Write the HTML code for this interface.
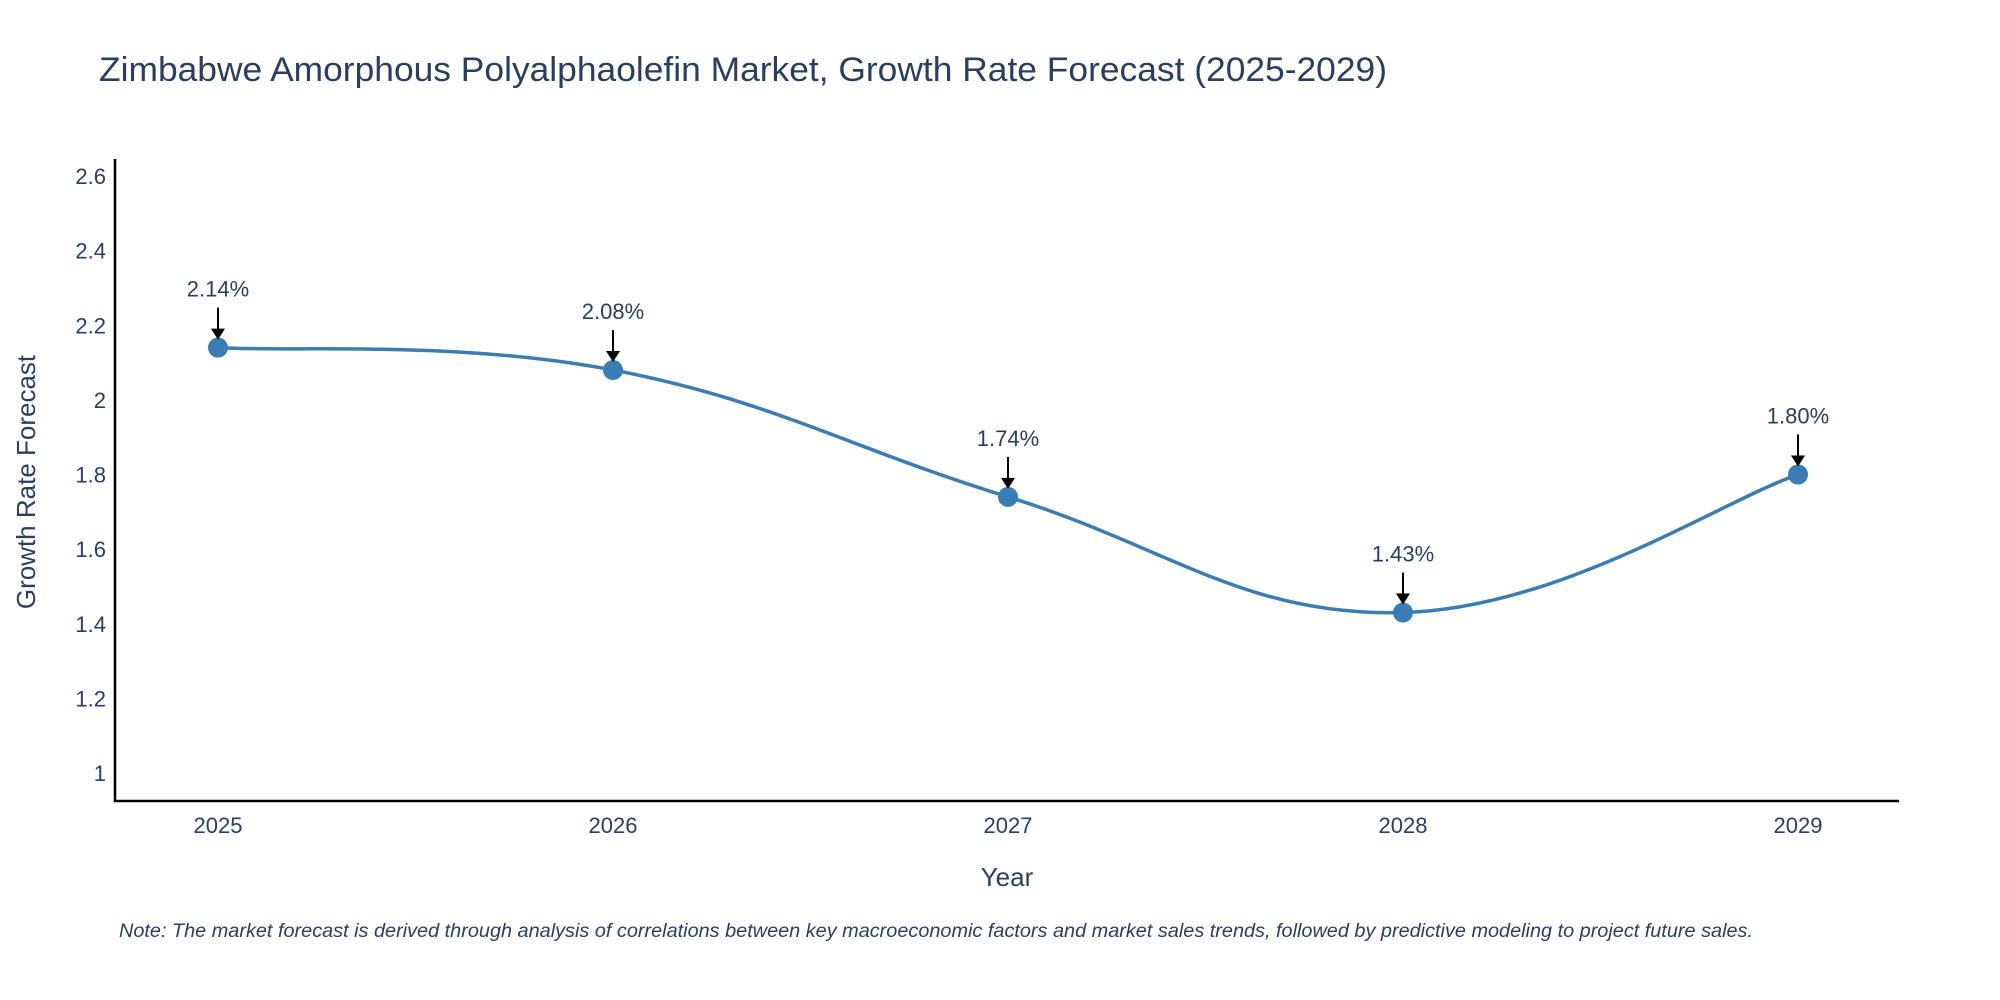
<!DOCTYPE html>
<html><head><meta charset="utf-8"><style>
html,body{margin:0;padding:0;background:#fff;}
svg{display:block;font-family:"Liberation Sans","DejaVu Sans",sans-serif;}
</style></head><body>
<svg id="chart" width="2000" height="1000">
<text x="99" y="81" font-size="34" fill="#2a3f5f" textLength="1288" lengthAdjust="spacingAndGlyphs">Zimbabwe Amorphous Polyalphaolefin Market, Growth Rate Forecast (2025-2029)</text>
<g id="yticks"></g>
<g id="xticks"></g>
<line x1="115" y1="159" x2="115" y2="802" stroke="#000" stroke-width="2.5"/>
<line x1="114" y1="801" x2="1899" y2="801" stroke="#000" stroke-width="2.5"/>
<g id="series"></g>
<g id="annots"></g>
<text x="1007" y="886" font-size="26" fill="#2a3f5f" text-anchor="middle">Year</text>
<text x="0" y="0" font-size="26" fill="#2a3f5f" text-anchor="middle" transform="translate(35,482) rotate(-90)">Growth Rate Forecast</text>
<text x="119" y="937" font-size="19" font-style="italic" fill="#2a3f5f" textLength="1634" lengthAdjust="spacingAndGlyphs">Note: The market forecast is derived through analysis of correlations between key macroeconomic factors and market sales trends, followed by predictive modeling to project future sales.</text>
</svg>
<script>
const years=[2025,2026,2027,2028,2029];
const values=[2.14,2.08,1.74,1.43,1.80];
const labels=["2.14%","2.08%","1.74%","1.43%","1.80%"];
const yTicks=[1,1.2,1.4,1.6,1.8,2,2.2,2.4,2.6];
const yTickLabels=["1","1.2","1.4","1.6","1.8","2","2.2","2.4","2.6"];
const NS="http://www.w3.org/2000/svg";
const X=y=>218+(y-2025)*395;
const Y=v=>773-(v-1)*(773-176)/1.6;
function mk(tag,attrs,parent){const e=document.createElementNS(NS,tag);for(const k in attrs)e.setAttribute(k,attrs[k]);parent.appendChild(e);return e;}
const yg=document.getElementById('yticks');
yTicks.forEach((t,i)=>{const e=mk('text',{x:106,y:Y(t)+8,'font-size':22,fill:'#2a3f5f','text-anchor':'end'},yg);e.textContent=yTickLabels[i];

});
const xg=document.getElementById('xticks');
years.forEach(yr=>{const e=mk('text',{x:X(yr),y:833,'font-size':22,fill:'#2a3f5f','text-anchor':'middle'},xg);e.textContent=yr;

});
const pts=years.map((yr,i)=>[X(yr),Y(values[i])]);
let d=`M${pts[0][0]},${pts[0][1]}`;const s=0.2;
for(let i=0;i<pts.length-1;i++){const p0=pts[Math.max(0,i-1)],p1=pts[i],p2=pts[i+1],p3=pts[Math.min(pts.length-1,i+2)];
d+=` C${p1[0]+(p2[0]-p0[0])*s},${p1[1]+(p2[1]-p0[1])*s} ${p2[0]-(p3[0]-p1[0])*s},${p2[1]-(p3[1]-p1[1])*s} ${p2[0]},${p2[1]}`;}
const sg=document.getElementById('series');
const line=mk('path',{d:d,fill:'none',stroke:'#3a7db4','stroke-width':3.5},sg);


const ag=document.getElementById('annots');
pts.forEach((p,i)=>{const c=mk('circle',{cx:p[0],cy:p[1],r:10,fill:'#3a7db4'},sg);


const l=mk('line',{x1:p[0],y1:p[1]-40,x2:p[0],y2:p[1]-18,stroke:'#000','stroke-width':2},ag);


const h=mk('path',{d:`M${p[0]-7},${p[1]-19} L${p[0]+7},${p[1]-19} L${p[0]},${p[1]-8} Z`,fill:'#000'},ag);


const t=mk('text',{x:p[0],y:p[1]-51,'font-size':22,fill:'#2a3f5f','text-anchor':'middle'},ag);t.textContent=labels[i];

});
</script>
</body></html>
